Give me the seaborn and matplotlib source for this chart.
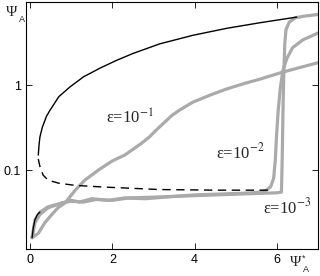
import numpy as np
import pandas as pd
import seaborn as sns
import matplotlib
matplotlib.use("Agg")
import matplotlib.pyplot as plt

# branch curves (black): stable branch solid, unstable branch dashed
solid_x = [0.20, 0.22, 0.24, 0.30, 0.40, 0.49, 0.70, 0.97, 1.30, 1.70, 2.10, 2.50, 3.15, 3.96, 4.78, 5.58, 6.48]
solid_y = [0.15, 0.20, 0.245, 0.32, 0.43, 0.51, 0.73, 0.95, 1.25, 1.58, 1.95, 2.35, 3.05, 3.85, 4.65, 5.40, 6.30]
dash_x = [0.20, 0.25, 0.32, 0.44, 0.70, 1.10, 1.82, 3.15, 4.50, 5.90]
dash_y = [0.135, 0.105, 0.087, 0.076, 0.070, 0.066, 0.063, 0.059, 0.058, 0.058]
start_x = [0.05, 0.08, 0.12, 0.18, 0.24]
start_y = [0.016, 0.021, 0.026, 0.030, 0.032]

# gray simulation curves
e1_x = [0.05, 0.20, 0.36, 0.53, 0.68, 0.85, 1.10, 1.33, 1.70, 2.00, 2.30, 2.50, 2.70, 2.90, 3.05, 3.20, 3.45, 3.64, 3.96, 4.40, 4.78, 5.20, 5.58, 6.14, 7.05]
e1_y = [0.016, 0.018, 0.024, 0.030, 0.036, 0.041, 0.058, 0.076, 0.103, 0.128, 0.150, 0.175, 0.205, 0.245, 0.290, 0.340, 0.440, 0.510, 0.630, 0.770, 0.900, 1.04, 1.17, 1.42, 1.86]
e2_x = [0.05, 0.12, 0.24, 0.44, 0.78, 1.00, 1.30, 1.60, 2.00, 2.40, 3.00, 3.50, 4.00, 4.50, 5.00, 5.40, 5.60, 5.75, 5.85, 5.92, 5.96, 5.99, 6.03, 6.08, 6.14, 6.24, 6.38, 6.63, 7.05]
e2_y = [0.016, 0.024, 0.030, 0.036, 0.041, 0.043, 0.042, 0.045, 0.044, 0.047, 0.048, 0.049, 0.051, 0.052, 0.053, 0.054, 0.055, 0.058, 0.064, 0.080, 0.130, 0.250, 0.500, 0.900, 1.45, 2.05, 2.75, 3.40, 4.20]
e3_x = [0.05, 0.12, 0.24, 0.44, 0.78, 1.00, 1.20, 1.50, 1.90, 2.30, 2.80, 3.50, 4.00, 4.50, 5.00, 5.50, 6.00, 6.11, 6.13, 6.15, 6.17, 6.19, 6.22, 6.30, 6.45, 6.70, 7.05]
e3_y = [0.016, 0.026, 0.032, 0.037, 0.041, 0.044, 0.042, 0.046, 0.044, 0.047, 0.046, 0.049, 0.050, 0.051, 0.052, 0.053, 0.054, 0.055, 0.150, 0.600, 1.50, 3.00, 4.50, 5.50, 6.20, 6.50, 6.80]

sns.set_style("ticks")
plt.rcParams["mathtext.fontset"] = "stix"

fig = plt.figure(figsize=(3.2, 2.76), dpi=100)
ax = fig.add_axes([0.081, 0.098, 0.913, 0.895])

gray = "#aaaaaa"
for xs, ys in [(e1_x, e1_y), (e2_x, e2_y), (e3_x, e3_y)]:
    sns.lineplot(x=xs, y=ys, ax=ax, sort=False, estimator=None, color=gray, lw=2.3)

sns.lineplot(x=solid_x, y=solid_y, ax=ax, sort=False, estimator=None, color="black", lw=1.0)
sns.lineplot(x=start_x, y=start_y, ax=ax, sort=False, estimator=None, color="black", lw=1.0)
sns.lineplot(x=dash_x, y=dash_y, ax=ax, sort=False, estimator=None, color="black", lw=1.0,
             linestyle=(0, (6, 4)))

ax.set_yscale("log")
ax.set_xlim(-0.1, 7.0)
ax.set_ylim(0.0118, 9.5)
ax.set_xticks([0, 2, 4, 6])
ax.set_yticks([0.1, 1])
ax.set_yticklabels(["0.1", "1"])
ax.yaxis.set_minor_locator(matplotlib.ticker.NullLocator())
ax.tick_params(direction="in", length=4, width=0.6, top=True, right=True,
               labelsize=9, colors="black")
for lab in ax.get_xticklabels() + ax.get_yticklabels():
    lab.set_family("Liberation Sans")
for s in ax.spines.values():
    s.set_linewidth(0.8)
    s.set_color("black")

tfont = dict(family="Liberation Serif", fontsize=12)
ax.text(2.43, 0.41, "ε=10$^{-1}$", ha="center", va="center", **tfont)
ax.text(5.1, 0.163, "ε=10$^{-2}$", ha="center", va="center", **tfont)
ax.text(6.24, 0.036, "ε=10$^{-3}$", ha="center", va="center", **tfont)

fig.text(0.018, 0.955, "Ψ", family="Liberation Serif", fontsize=11, va="center")
fig.text(0.058, 0.93, "A", family="Liberation Sans", fontsize=6.5, va="center")
fig.text(0.906, 0.05, "Ψ", family="Liberation Serif", fontsize=11, va="center")
fig.text(0.943, 0.066, "*", family="Liberation Sans", fontsize=6.5, va="center")
fig.text(0.946, 0.022, "A", family="Liberation Sans", fontsize=6.5, va="center")

fig.savefig("out.png", dpi=100)
